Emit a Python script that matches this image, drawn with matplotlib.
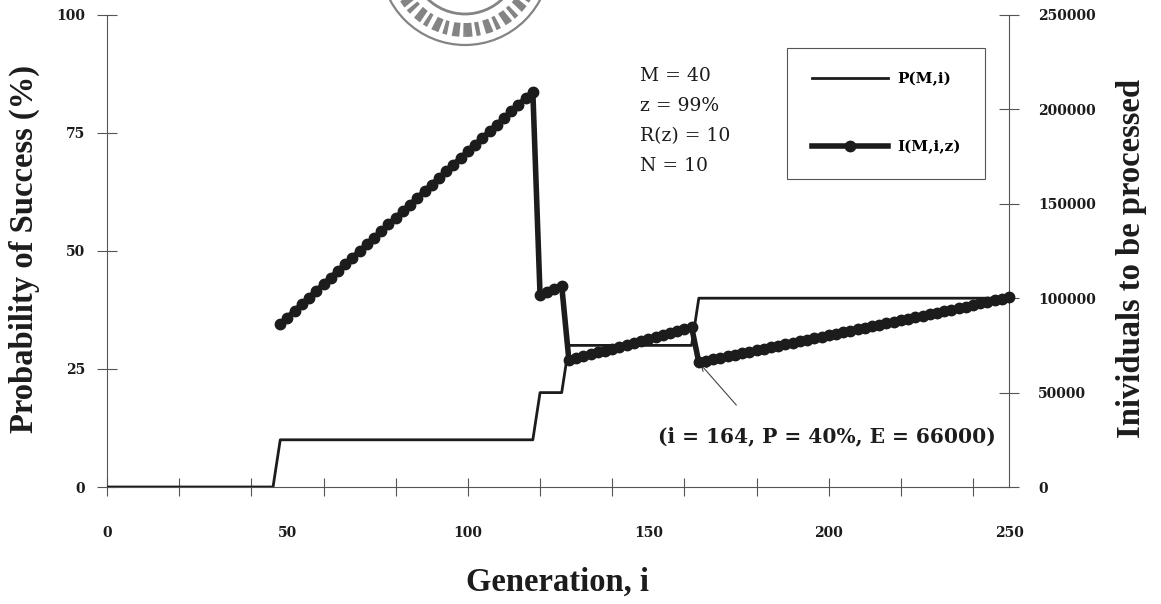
import matplotlib.pyplot as plt
import numpy as np
from matplotlib.patches import Circle
from matplotlib.ticker import FixedLocator, NullFormatter, StrMethodFormatter

# P(M,i): probability of success (%), vertices of the step curve
p_gen = [0, 46, 48, 118, 120, 126, 128, 162, 164, 250]
p_success = [0, 0, 10, 10, 20, 20, 30, 30, 40, 40]

# I(M,i,z): individuals to be processed, one point every 2 generations from i = 48
i_gen = np.arange(48, 251, 2)
i_individuals = [
    # P = 10 %
    86240, 89760, 93280, 96800, 100320, 103840, 107360, 110880, 114400, 117920,
    121440, 124960, 128480, 132000, 135520, 139040, 142560, 146080, 149600, 153120,
    156640, 160160, 163680, 167200, 170720, 174240, 177760, 181280, 184800, 188320,
    191840, 195360, 198880, 202400, 205920, 209440,
    # P = 20 %
    101640, 103320, 105000, 106680,
    # P = 30 %
    67080, 68120, 69160, 70200, 71240, 72280, 73320, 74360, 75400, 76440,
    77480, 78520, 79560, 80600, 81640, 82680, 83720, 84760,
    # P = 40 %
    66000, 66800, 67600, 68400, 69200, 70000, 70800, 71600, 72400, 73200,
    74000, 74800, 75600, 76400, 77200, 78000, 78800, 79600, 80400, 81200,
    82000, 82800, 83600, 84400, 85200, 86000, 86800, 87600, 88400, 89200,
    90000, 90800, 91600, 92400, 93200, 94000, 94800, 95600, 96400, 97200,
    98000, 98800, 99600, 100400,
]

params = ["M = 40", "z = 99%", "R(z) = 10", "N = 10"]
best = (164, 66000)

TICK_FONT = dict(family="DejaVu Serif", weight="bold", size=10)
LABEL_FONT = dict(family="Liberation Serif", weight="bold", size=23.5)
INK = "#1c1c1c"
AXIS = "#555555"

fig = plt.figure(figsize=(11.61, 6.04), dpi=100)
ax = fig.add_axes([0.0922, 0.1937, 0.777, 0.7815])
ax2 = ax.twinx()

# P line on the left axis
(p_line,) = ax.plot(p_gen, p_success, color=INK, lw=2.0, label="P(M,i)", zorder=3)

# I line on the right axis
(i_line,) = ax2.plot(i_gen, i_individuals, color=INK, lw=4.0, marker="o",
                     markersize=7.5, label="I(M,i,z)", clip_on=False, zorder=4)

ax.set_xlim(0, 250)
ax.set_ylim(0, 100)
ax2.set_ylim(0, 250000)

for a in (ax, ax2):
    a.spines["top"].set_visible(False)
    for s in a.spines.values():
        s.set_color(AXIS)
        s.set_linewidth(0.8)
ax.spines["right"].set_visible(False)
ax2.spines["left"].set_visible(False)
ax2.spines["bottom"].set_visible(False)

# x axis: tick marks every 20, labels every 50 without marks
ax.xaxis.remove_overlapping_locs = False
ax.xaxis.set_major_locator(FixedLocator(np.arange(0, 241, 20)))
ax.xaxis.set_major_formatter(NullFormatter())
ax.xaxis.set_minor_locator(FixedLocator(np.arange(0, 251, 50)))
ax.xaxis.set_minor_formatter(StrMethodFormatter("{x:.0f}"))
ax.tick_params(axis="x", which="major", direction="inout", length=13,
               width=0.8, color=AXIS)
ax.tick_params(axis="x", which="minor", length=0, pad=28)

ax.set_yticks([0, 25, 50, 75, 100])
ax.tick_params(axis="y", direction="inout", length=14, width=0.8, color=AXIS, pad=9)
ax2.set_yticks(np.arange(0, 250001, 50000))
ax2.tick_params(axis="y", direction="inout", length=14, width=0.8, color=AXIS, pad=14)

for lbl in (ax.get_xticklabels(minor=True) + ax.get_yticklabels()
            + ax2.get_yticklabels()):
    lbl.set_fontfamily(TICK_FONT["family"])
    lbl.set_fontweight(TICK_FONT["weight"])
    lbl.set_fontsize(TICK_FONT["size"])
    lbl.set_color(INK)

ax.set_xlabel("Generation, i", color=INK, **LABEL_FONT)
ax.xaxis.set_label_coords(0.499, -0.170)
ax.set_ylabel("Probability of Success (%)", color=INK, **LABEL_FONT)
ax.yaxis.set_label_coords(-0.074, 0.504)
ax2.set_ylabel("Inividuals to be processed", color=INK, rotation=90, **LABEL_FONT)
ax2.yaxis.set_label_coords(1.119, 0.485)

# run parameters
ax.text(0.591, 0.890, "\n".join(params), transform=ax.transAxes, ha="left",
        va="top", family="DejaVu Serif", fontsize=13.5, linespacing=1.85, color=INK)

# legend
leg = ax2.legend(handles=[p_line, i_line], loc="upper left",
                 bbox_to_anchor=(0.754, 0.93), borderaxespad=0, numpoints=1,
                 fancybox=False, framealpha=1, edgecolor=AXIS, handlelength=5.0,
                 handletextpad=0.6, labelspacing=3.5, borderpad=1.6,
                 prop=dict(family="DejaVu Serif", weight="bold", size=11))
leg.get_frame().set_linewidth(0.8)

# call-out for the cheapest point
ax2.annotate("", xy=best, xytext=(174.4, 43400),
             arrowprops=dict(arrowstyle="->", color="#444444", lw=0.8,
                             shrinkA=0, shrinkB=2))
ax2.text(152.8, 27000, f"(i = {best[0]}, P = 40%, E = {best[1]})", ha="left",
         va="center", family="DejaVu Serif", weight="bold", fontsize=14.5, color=INK)

# library stamp cut off at the top edge (inches from the lower-left corner)
for r, lw, ls in [(0.85, 1.6, "-"), (0.70, 10.0, (0, (0.5, 0.25, 0.3, 0.35))),
                  (0.54, 2.0, "-")]:
    fig.patches.append(Circle((4.65, 6.44), r, fill=False, edgecolor="#6e6e6e",
                              lw=lw, ls=ls, alpha=0.85,
                              transform=fig.dpi_scale_trans, zorder=0))

fig.savefig("out.png", dpi=100)
